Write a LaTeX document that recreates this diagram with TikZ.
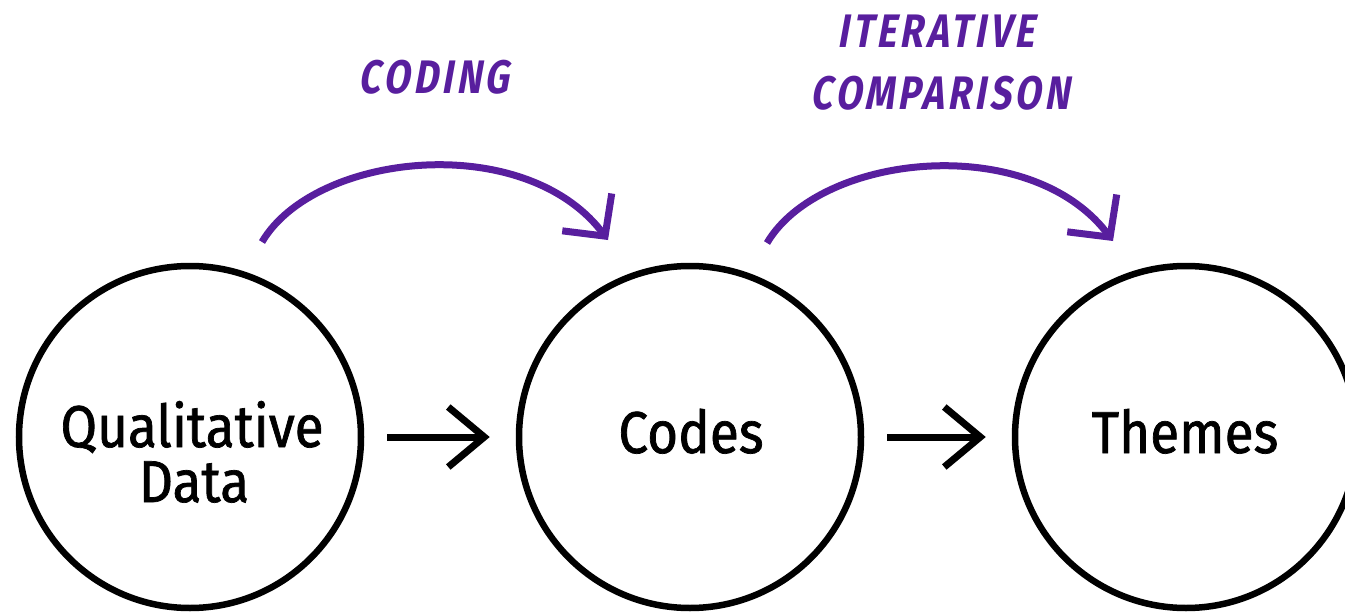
\documentclass[tikz,border=0pt]{standalone}
\usepackage{fontspec}
\setmainfont{Fira Sans}
\newfontfamily\mainf[FakeStretch=0.9,FakeBold=1.2]{Fira Sans}
\newfontfamily\handf[FakeSlant=0.18,FakeStretch=0.8,LetterSpace=8]{Fira Sans}
\usetikzlibrary{arrows.meta}
\definecolor{purp}{RGB}{88,30,158}
\begin{document}
\begin{tikzpicture}[x=1pt,y=-1pt,
  blob/.style={draw=black,line width=6.5pt,circle,minimum size=342pt,inner sep=0pt},
  lbl/.style={anchor=base,font=\mainf\fontsize{59}{60}\selectfont,inner sep=0pt},
  flow/.style={draw=black,line width=7pt,-{Straight Barb[length=36pt,width=60pt]}},
  bendarrow/.style={draw=purp,line width=7pt,-{Straight Barb[length=30pt,width=62pt]}},
  hand/.style={anchor=base,text=purp,inner sep=0pt,font=\handf\bfseries\fontsize{47}{48}\selectfont}]
\useasboundingbox (0,0) rectangle (1345,613);
\node[blob] (q) at (190,437) {};
\node[blob] (c) at (690,437) {};
\node[blob] (t) at (1186,437) {};
\node[lbl] (q1) at (192,447) {Qualitative};
\node[lbl] (q2) at (194,502) {Data};
\node[lbl] (cl) at (691,453) {Codes};
\node[lbl] (tl) at (1185,453) {Themes};
\draw[flow,shorten <=23pt,shorten >=26pt] (q) -- (c);
\draw[flow,shorten <=23pt,shorten >=26pt] (c) -- (t);
\coordinate (s1) at (262,242);
\coordinate (e1) at (608,240);
\coordinate (s2) at (767,243);
\coordinate (e2) at (1113,241);
\draw[bendarrow] (s1) .. controls (315,152) and (525,130) .. (e1);
\draw[bendarrow] (s2) .. controls (820,153) and (1030,131) .. (e2);
\node[hand] (coding) at (434,93) {CODING};
\node[hand] (iter) at (936,47) {ITERATIVE};
\node[hand] (comp) at (940,109) {COMPARISON};
\end{tikzpicture}
\end{document}
